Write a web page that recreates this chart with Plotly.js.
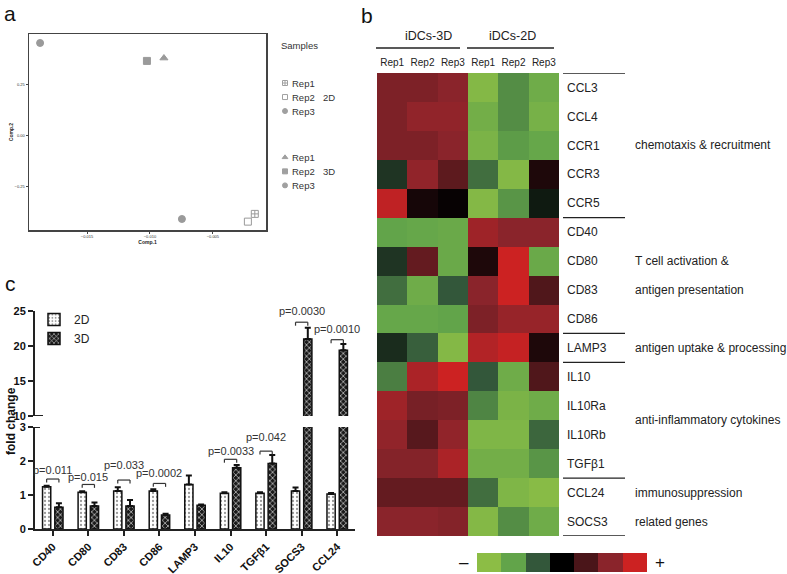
<!DOCTYPE html>
<html><head><meta charset="utf-8">
<script src="https://cdn.plot.ly/plotly-3.0.1.min.js"></script>
<style>body{margin:0;background:#fff}#chart{width:787px;height:574px}</style>
</head><body><div id="chart"></div>
<script>
// ---------- Panel a: PCA ----------
const pcaRepNames = ['Rep1', 'Rep2', 'Rep3'];
const pcaGroups = ['2D', '3D'];
const pca2D_comp1 = [-0.00167, -0.00222, -0.00746];
const pca2D_comp2 = [-0.382, -0.420, -0.407];
const pca3D_comp1 = [-0.00889, -0.01024, -0.01873];
const pca3D_comp2 = [0.382, 0.368, 0.456];
const pca2D_symbols = ['square-cross-open', 'square-open', 'circle'];
const pca3D_symbols = ['triangle-up', 'square', 'circle'];

// ---------- Panel b: heatmap ----------
const heatGenes = ['CCL3','CCL4','CCR1','CCR3','CCR5','CD40','CD80','CD83','CD86','LAMP3','IL10','IL10Ra','IL10Rb','TGFβ1','CCL24','SOCS3'];
const heatCols = ['Rep1','Rep2','Rep3','Rep1','Rep2','Rep3'];
const heatValues = [
  [ 1.8,  1.8,  2.0, -2.8, -1.7, -2.3],
  [ 1.8,  2.1,  2.1, -2.4, -1.7, -2.5],
  [ 1.8,  1.8,  2.0, -2.6, -1.9, -2.1],
  [-0.6,  2.1,  1.3, -1.3, -2.8,  0.4],
  [ 2.8,  0.3,  0.1, -2.8, -1.8, -0.3],
  [-2.0, -2.1, -2.2,  2.3,  2.0,  2.0],
  [-0.6,  1.4, -2.2,  0.4,  3.0, -2.2],
  [-1.3, -2.3, -1.0,  2.0,  3.0,  1.1],
  [-2.1, -2.1, -2.0,  1.8,  2.2,  2.2],
  [-0.5, -1.1, -2.8,  2.6,  2.9,  0.4],
  [-1.5,  2.5,  3.0, -1.0, -2.3,  1.1],
  [ 2.3,  1.7,  1.8, -1.6, -2.6, -2.3],
  [ 2.1,  1.2,  2.1, -2.7, -2.7, -1.2],
  [ 1.9,  1.9,  2.5, -2.4, -2.4, -1.8],
  [ 1.4,  1.4,  1.4, -1.3, -2.7, -2.9],
  [ 2.0,  2.0,  1.9, -2.8, -1.7, -2.3]
];
const groupHeaders = ['iDCs-3D', 'iDCs-2D'];
const geneGroupSizes = [5, 4, 1, 4, 2];
const geneGroupLabels = [
  {text: 'chemotaxis & recruitment', row: 2},
  {text: 'T cell activation &', row: 6},
  {text: 'antigen presentation', row: 7},
  {text: 'antigen uptake & processing', row: 9},
  {text: 'anti-inflammatory cytokines', row: 11.5},
  {text: 'immunosuppression', row: 14},
  {text: 'related genes', row: 15}
];
const colorKeySteps = [-3, -2, -1, 0, 1, 2, 3];
const heatColors = ['#8cbd45', '#62a44a', '#33573a', '#000000', '#4a1519', '#8a242b', '#cc2222'];

// ---------- Panel c: qPCR ----------
const qpcrGenes = ['CD40','CD80','CD83','CD86','LAMP3','IL10','TGFβ1','SOCS3','CCL24'];
const fold2D = [1.24, 1.08, 1.12, 1.12, 1.31, 1.05, 1.05, 1.12, 1.03];
const err2D  = [0.03, 0.03, 0.11, 0.05, 0.26, 0.03, 0.03, 0.10, 0.03];
const fold3D = [0.64, 0.68, 0.68, 0.41, 0.70, 1.80, 1.93, 21.0, 19.4];
const err3D  = [0.12, 0.10, 0.17, 0.04, 0.02, 0.08, 0.25, 1.6, 0.9];
const pLabels = ['p=0.011','p=0.015','p=0.033','p=0.0002','','p=0.0033','p=0.042','p=0.0030','p=0.0010'];
const bracketY = [1.47, 1.31, 1.44, 1.34, null, 2.05, 2.29, 23.4, 20.9];
const pLabelY  = [1.73, 1.54, 1.88, 1.64, null, 2.29, 2.71, 25.0, 22.5];

const W = 787, H = 574;
const P = px => px / W;
const Q = py => 1 - py / H;
const FONT = 'Arial, "Liberation Sans", sans-serif';

const traces = [];
// PCA points
const pcaSets = [[pca2D_comp1, pca2D_comp2, pca2D_symbols], [pca3D_comp1, pca3D_comp2, pca3D_symbols]];
pcaSets.forEach(([c1, c2, sy]) => {
  traces.push({type:'scatter', mode:'markers', x:c1, y:c2, xaxis:'x3', yaxis:'y3', showlegend:false, hoverinfo:'skip',
    marker:{symbol:sy, size:7, color:'#9a9a9a', line:{color:'#9a9a9a', width:1}}});
});
// PCA legend (keys on a hidden legend axis, one row per replicate)
const legendRows = [], legendSyms = [];
pcaSets.forEach(([c1, c2, sy], g) => {
  pcaRepNames.forEach((n, i) => { legendRows.push(g * 5.3 + i); legendSyms.push(sy[i]); });
});
traces.push({type:'scatter', mode:'markers', x:legendRows.map(() => 0.5), y:legendRows, xaxis:'x6', yaxis:'y6',
  showlegend:false, hoverinfo:'skip', marker:{symbol:legendSyms, size:5, color:'#a0a0a0', line:{color:'#a0a0a0', width:1}}});

// heatmap
const cs = heatColors.map((c, i) => [i / (heatColors.length - 1), c]);
traces.push({type:'heatmap', z: heatValues, x: heatCols.map((_, i) => i), y: heatGenes.map((_, i) => i),
  xaxis:'x4', yaxis:'y4', colorscale: cs, zmin:-3, zmax:3, showscale:false, hoverinfo:'skip'});
traces.push({type:'heatmap', z:[colorKeySteps], xaxis:'x5', yaxis:'y5', colorscale: cs, zmin:-3, zmax:3,
  showscale:false, hoverinfo:'skip'});

// bars
const zeros = qpcrGenes.map(() => 0);
function barTrace(vals, errs, name, yaxis, show, is3D) {
  return {type:'bar', x: qpcrGenes, y: vals, name: name, xaxis:'x', yaxis: yaxis, legend:'legend2',
    showlegend: show, hoverinfo:'skip',
    error_y:{type:'data', array: errs, arrayminus: zeros, color:'#111', thickness:2, width:3},
    marker: is3D ? {color:'#222', line:{color:'#111', width:1.5},
        pattern:{shape:'x', fgcolor:'#e0e0e0', bgcolor:'#1a1a1a', size:4, solidity:0.3}}
      : {color:'#fff', line:{color:'#111', width:1.5},
        pattern:{shape:'.', fgcolor:'#999', bgcolor:'#ffffff', size:4, solidity:0.25}}};
}
traces.push(barTrace(fold2D, err2D, '2D', 'y', true, false));
traces.push(barTrace(fold3D, err3D, '3D', 'y', true, true));
traces.push(barTrace(fold2D, err2D, '2D', 'y2', false, false));
traces.push(barTrace(fold3D, err3D, '3D', 'y2', false, true));

// shapes & annotations
const shapes = [];
const annotations = [];
function txt(text, px, py, size, extra) {
  annotations.push(Object.assign({text:text, x:P(px), y:Q(py), xref:'paper', yref:'paper', xanchor:'center', yanchor:'middle',
    showarrow:false, font:{size:size, family:FONT, color:'#222'}}, extra || {}));
}
txt('a', 10, 13, 21, {font:{size:21, family:FONT, color:'#111'}});
txt('b', 367, 15, 21, {font:{size:21, family:FONT, color:'#111'}});
txt('c', 10, 283, 21, {font:{size:21, family:FONT, color:'#111'}});
txt('Samples', 279, 45, 9.5, {xanchor:'left', font:{size:9.5, family:FONT, color:'#333'}});
legendRows.forEach((r, k) => {
  annotations.push({text:pcaRepNames[k % 3], x:P(290), y:r, xref:'paper', yref:'y6', xanchor:'left', yanchor:'middle',
    showarrow:false, font:{size:9.5, family:FONT, color:'#333'}});
});
pcaGroups.forEach((g, k) => {
  annotations.push({text:g, x:P(321), y:legendRows[k * 3 + 1], xref:'paper', yref:'y6', xanchor:'left', yanchor:'middle',
    showarrow:false, font:{size:9.5, family:FONT, color:'#333'}});
});

// heatmap headers
const hdrCenters = [428, 512];
const hdrLines = [[376, 460], [467, 554]];
groupHeaders.forEach((t, i) => {
  txt(t, hdrCenters[i], 36, 12.5);
  shapes.push({type:'line', xref:'paper', yref:'paper', x0:P(hdrLines[i][0]), x1:P(hdrLines[i][1]), y0:Q(48), y1:Q(48), line:{color:'#222', width:1.3}});
});
// gene group separators
let b = -0.5;
shapes.push({type:'line', xref:'paper', yref:'y4', x0:P(563), x1:P(625), y0:b, y1:b, line:{color:'#222', width:1.3}});
geneGroupSizes.forEach(n => {
  b += n;
  shapes.push({type:'line', xref:'paper', yref:'y4', x0:P(563), x1:P(625), y0:b, y1:b, line:{color:'#222', width:1.3}});
});
geneGroupLabels.forEach(g => {
  annotations.push({text:g.text, x:P(633), y:g.row, xref:'paper', yref:'y4', xanchor:'left', yanchor:'middle', showarrow:false, font:{size:12, family:FONT, color:'#222'}});
});
txt('–', 464, 562, 17, {font:{size:17, family:FONT, color:'#111'}});
txt('+', 660, 562, 17, {font:{size:17, family:FONT, color:'#111'}});

// p-value brackets
const off = 0.1725;
qpcrGenes.forEach((g, i) => {
  if (!pLabels[i]) return;
  const upper = bracketY[i] > 3;
  const yr = upper ? 'y2' : 'y';
  const leg = upper ? 0.5 : 0.1;
  const ln = {color:'#333', width:1.2};
  shapes.push({type:'line', xref:'x', yref:yr, x0:i - off, x1:i + off, y0:bracketY[i], y1:bracketY[i], line:ln});
  shapes.push({type:'line', xref:'x', yref:yr, x0:i - off, x1:i - off, y0:bracketY[i], y1:bracketY[i] - leg, line:ln});
  shapes.push({type:'line', xref:'x', yref:yr, x0:i + off, x1:i + off, y0:bracketY[i], y1:bracketY[i] - leg, line:ln});
  annotations.push({text:pLabels[i], x:i, y:pLabelY[i], xref:'x', yref:yr, xanchor:'center', yanchor:'middle', showarrow:false, font:{size:11, family:FONT, color:'#333'}});
});
// axis break marks
shapes.push({type:'line', xref:'paper', yref:'y2', x0:P(30), x1:P(43), y0:10, y1:10, line:{color:'#222', width:2}});
shapes.push({type:'line', xref:'paper', yref:'y', x0:P(30), x1:P(40), y0:3, y1:3, line:{color:'#222', width:2}});
txt('fold change', 11, 421, 12, {textangle:-90, font:{size:12, family:FONT, weight:700, color:'#111'}});

const axC = {showline:true, linecolor:'#222', linewidth:2, ticks:'outside', ticklen:5, tickwidth:2, tickcolor:'#222',
  showgrid:false, zeroline:false, fixedrange:true, tickfont:{size:11, family:FONT, weight:700, color:'#111'}};
const axA = {showline:true, mirror:true, linecolor:'#444', linewidth:1.5, ticks:'outside', ticklen:2, tickwidth:1,
  tickcolor:'#444', showgrid:false, zeroline:false, tickfont:{size:4, family:FONT, color:'#333'}};

const layout = {
  width:W, height:H, margin:{l:0, r:0, t:0, b:0}, paper_bgcolor:'#fff', plot_bgcolor:'rgba(0,0,0,0)',
  font:{family:FONT, color:'#222'},
  barmode:'group', bargap:0.31, bargroupgap:0.33,
  xaxis: Object.assign({}, axC, {domain:[P(35), P(355)], anchor:'y', type:'category', range:[-0.5, 8.5], tickangle:-45,
    tickfont:{size:11, family:FONT, weight:700, color:'#111'}}),
  yaxis: Object.assign({}, axC, {domain:[Q(529), Q(427)], anchor:'x', range:[0, 3], tickvals:[0, 1, 2, 3]}),
  yaxis2: Object.assign({}, axC, {domain:[Q(416), Q(311)], anchor:'x', range:[10, 25], tickvals:[10, 15, 20, 25]}),
  xaxis3: Object.assign({}, axA, {domain:[P(29), P(266)], anchor:'y3', range:[-0.01961, -0.00078],
    tickvals:[-0.015, -0.010, -0.005], tickformat:'.3f', title:{text:'Comp.1', font:{size:5, weight:700}, standoff:1}}),
  yaxis3: Object.assign({}, axA, {domain:[Q(230), Q(34)], anchor:'x3', range:[-0.461, 0.5],
    tickvals:[-0.25, 0, 0.25], tickformat:'.2f', title:{text:'Comp.2', font:{size:5, weight:700}, standoff:1}}),
  xaxis4: {domain:[P(377), P(559)], anchor:'y4', range:[-0.5, 5.5], side:'top', tickvals:heatCols.map((_, i) => i),
    ticktext:heatCols, ticks:'', showgrid:false, zeroline:false, showline:false, ticklabelstandoff:4,
    tickfont:{size:10, family:FONT, color:'#222'}, fixedrange:true},
  yaxis4: {domain:[Q(536), Q(73)], anchor:'x4', range:[15.5, -0.5], side:'right', tickvals:heatGenes.map((_, i) => i),
    ticktext:heatGenes, ticks:'', showgrid:false, zeroline:false, showline:false, ticklabelstandoff:7,
    tickfont:{size:12, family:FONT, color:'#222'}, fixedrange:true},
  xaxis5: {domain:[P(477), P(647)], anchor:'y5', visible:false, fixedrange:true},
  yaxis5: {domain:[Q(572), Q(553)], anchor:'x5', visible:false, fixedrange:true},
  xaxis6: {domain:[P(280), P(290)], anchor:'y6', range:[0, 1], visible:false, fixedrange:true},
  yaxis6: {domain:[Q(191), Q(76)], anchor:'x6', range:[7.7, -0.5], visible:false, fixedrange:true},
  showlegend:true,
  legend2: {x:P(34), y:Q(305), xanchor:'left', yanchor:'top', font:{size:12, family:FONT, color:'#222'},
    bgcolor:'rgba(0,0,0,0)', itemwidth:30},
  shapes: shapes, annotations: annotations
};
Plotly.newPlot('chart', traces, layout, {displayModeBar:false, staticPlot:true});
</script></body></html>
